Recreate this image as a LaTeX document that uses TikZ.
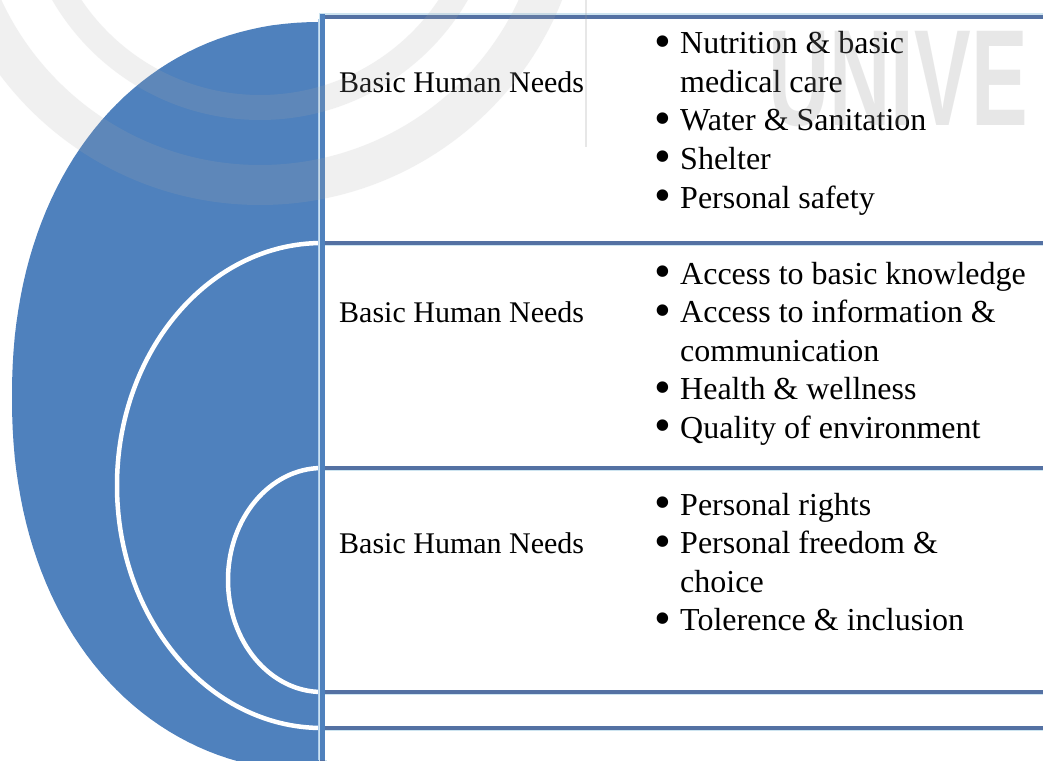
\documentclass[tikz,border=0pt]{standalone}
\usepackage{fontspec}
\setmainfont{Liberation Serif}
\newfontfamily\wmfont{Liberation Sans}

\definecolor{shapeblue}{RGB}{79,129,189}
\definecolor{rulesteel}{RGB}{84,113,163}
\definecolor{rulehalo}{RGB}{205,228,240}
\definecolor{edgelight}{RGB}{175,205,236}
\definecolor{wmgray}{RGB}{150,150,150}
\definecolor{wmring}{RGB}{170,170,170}

\newcommand{\bul}{\makebox[26pt][l]{\raisebox{-3.5pt}{\scalebox{1.5}{\textbullet}}}}
\newcommand{\roundexp}{2/2.15}

\tikzset{
  rowbox/.style={draw=rulesteel, line width=4.5pt},
  rowhalo/.style={draw=rulehalo, line width=8pt},
  ring/.style={fill=shapeblue, draw=white, line width=4.5pt},
  needtext/.style={anchor=base west, inner sep=0pt,
    font=\fontsize{30}{38.5}\selectfont},
  itemlist/.style={anchor=base west, inner sep=0pt,
    font=\fontsize{32}{38.5}\selectfont},
  watermark/.style={wmgray, opacity=0.22},
  emblem/.style={wmring, opacity=0.17, even odd rule}
}

\begin{document}
\begin{tikzpicture}[x=1pt,y=-1pt]
\useasboundingbox (0,0) rectangle (1043,760);
\fill[white] (0,0) rectangle (1043,760);

% nested target: outer rounded disc and two concentric rings, cut at the list edge
\begin{scope}
  \clip (0,0) rectangle (322,760);
  \fill[shapeblue] (322,22)
    -- plot[domain=92:178, samples=44]
       ({322-310*pow(abs(cos(\x)),\roundexp)}, {397-375*pow(abs(sin(\x)),\roundexp)})
    -- (12,397)
    -- plot[domain=182:268, samples=44]
       ({322-310*pow(abs(cos(\x)),\roundexp)}, {397+375*pow(abs(sin(\x)),\roundexp)})
    -- (322,772) -- cycle;
  \draw[ring] (322,485.5) ellipse [x radius=205pt, y radius=242.5pt];
  \draw[ring] (322,580) ellipse [x radius=94pt, y radius=112pt];
\end{scope}
\draw[edgelight, line width=1.8pt] (318.8,19) -- (318.8,760);

% list rows
\coordinate (r0) at (322.5,17);
\coordinate (r1) at (322.5,243);
\coordinate (r2) at (322.5,468);
\coordinate (r3) at (322.5,692);
\coordinate (r4) at (322.5,728);
\coordinate (r5) at (322.5,800);
\foreach \a/\b in {r0/r1,r1/r2,r2/r3,r3/r4,r4/r5}{
  \draw[rowhalo] (\a) rectangle ([xshift=760pt]\b);
}
\foreach \a/\b in {r0/r1,r1/r2,r2/r3,r3/r4,r4/r5}{
  \draw[rowbox] (\a) rectangle ([xshift=760pt]\b);
}
\fill[white] (325,19.5) rectangle (1043,240.5);
\fill[white] (325,245.5) rectangle (1043,465.5);
\fill[white] (325,470.5) rectangle (1043,689.5);
\fill[white] (325,694.5) rectangle (1043,725.5);
\fill[white] (325,730.5) rectangle (1043,760);
\draw[shapeblue, line width=5pt] (322.5,14.5) -- (322.5,760);

% row texts
\node[needtext] (need1) at (339,92.5) {Basic Human Needs};
\node[needtext] (need2) at (339,322.5) {Basic Human Needs};
\node[needtext] (need3) at (339,553.5) {Basic Human Needs};

\node[itemlist] (list1) at (654,54) {\begin{tabular}[t]{@{}l@{}l@{}}
  \bul & Nutrition \& basic\\
       & medical care\\
  \bul & Water \& Sanitation\\
  \bul & Shelter\\
  \bul & Personal safety
\end{tabular}};
\node[itemlist] (list2) at (654,284) {\begin{tabular}[t]{@{}l@{}l@{}}
  \bul & Access to basic knowledge\\
  \bul & Access to information \&\\
       & communication\\
  \bul & Health \& wellness\\
  \bul & Quality of environment
\end{tabular}};
\node[itemlist] (list3) at (654,515) {\begin{tabular}[t]{@{}l@{}l@{}}
  \bul & Personal rights\\
  \bul & Personal freedom \&\\
       & choice\\
  \bul & Tolerence \& inclusion
\end{tabular}};

% faint watermark: emblem rings, divider and lettering
\begin{scope}
  \clip (0,0) rectangle (585,760);
  \fill[emblem] (260,-120) circle (240pt) (260,-120) circle (215pt);
  \fill[emblem] (260,-120) circle (325pt) (260,-120) circle (285pt);
\end{scope}
\draw[watermark, line width=2pt] (586,0) -- (586,147);
\node[watermark, anchor=base west, inner sep=0pt,
  font=\wmfont\bfseries\fontsize{137}{137}\selectfont] (wm) at (768,125)
  {\scalebox{0.62}[1]{UNIVE}};
\end{tikzpicture}
\end{document}
